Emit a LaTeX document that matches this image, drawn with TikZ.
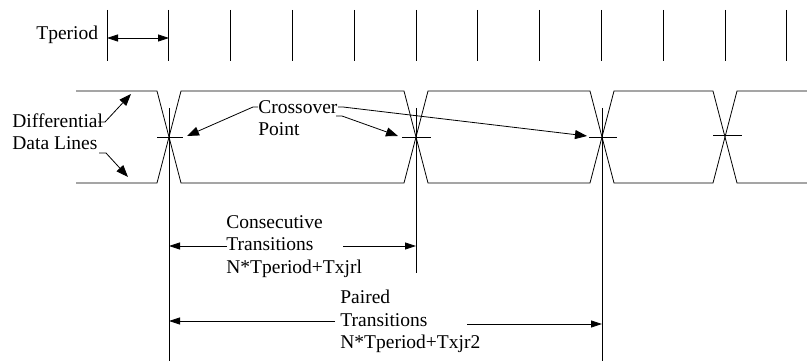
\documentclass[tikz,border=0pt]{standalone}
\usepackage{fontspec}
\setmainfont{Liberation Serif}
\usetikzlibrary{arrows.meta}
\begin{document}
\begin{tikzpicture}[x=1pt,y=-1pt,line width=0.8pt,
  lbl/.style={inner sep=0pt,anchor=north west,align=left,font=\fontsize{19.5}{22.5}\selectfont},
  bigarr/.style={-{Triangle[length=12pt,width=9pt]}},
  dimarr/.style={-{Triangle[length=11pt,width=7pt]}},
  wire/.style={line width=0.8pt,line join=miter}]
\useasboundingbox (0,0) rectangle (807,361);
% clock ticks
\foreach \i in {0,...,11}{
  \draw (107+\i*61.8,10) -- (107+\i*61.8,61);
}
\node[lbl] (tp) at (36,26) {Tperiod};
\coordinate (tpa) at (107,38);
\coordinate (tpb) at (169,38);
\draw[{Triangle[length=11pt,width=7pt]}-{Triangle[length=11pt,width=7pt]}] (tpa) -- (tpb);
% waveforms
\draw[wire] (76,91) -- (157,91) -- (181,183) -- (404,183) -- (428,91) -- (590,91) -- (614,183) -- (713,183) -- (737,91) -- (807,91);
\draw[wire] (76,183) -- (157,183) -- (181,91) -- (404,91) -- (428,183) -- (590,183) -- (614,91) -- (713,91) -- (737,183) -- (807,183);
% crossing markers
\coordinate (c1) at (169,137);
\coordinate (c2) at (416,137);
\coordinate (c3) at (602,137);
\coordinate (c4) at (725,135);
\draw (157,137) -- (183,137);
\draw (402,137) -- (431,137);
\draw (589,137) -- (617,137);
\draw (713,135) -- (742,135);
\draw (169,108) -- (169,361);
\draw (416,108) -- (416,273);
\draw (602,108) -- (602,361);
% labels
\node[lbl] (diff) at (12,113) {Differential\\Data Lines};
\coordinate (d1) at (98,122);
\coordinate (d1b) at (105,122);
\coordinate (d1t) at (131,94);
\coordinate (d2) at (99,153);
\coordinate (d2b) at (106,153);
\coordinate (d2t) at (128,177);
\draw[bigarr] (d1) -- (d1b) -- (d1t);
\draw[bigarr] (d2) -- (d2b) -- (d2t);
\node[lbl] (cross) at (258,100) {Crossover\\Point};
\draw[bigarr] (258,107) -- (253,107) -- (187,136);
\draw[bigarr] (336,116) -- (342,116) -- (398,136);
\draw[bigarr] (338,107) -- (343,107) -- (587,136);
% dimensions
\node[lbl] (cons) at (226,215) {Consecutive\\Transitions\\N*Tperiod+Txjrl};
\draw[dimarr] (227,246) -- (169,246);
\draw[dimarr] (343,246) -- (416,246);
\node[lbl] (pair) at (340,290) {Paired\\Transitions\\N*Tperiod+Txjr2};
\draw[dimarr] (335,321) -- (169,321);
\draw[dimarr] (467,324) -- (602,324);
\end{tikzpicture}
\end{document}
